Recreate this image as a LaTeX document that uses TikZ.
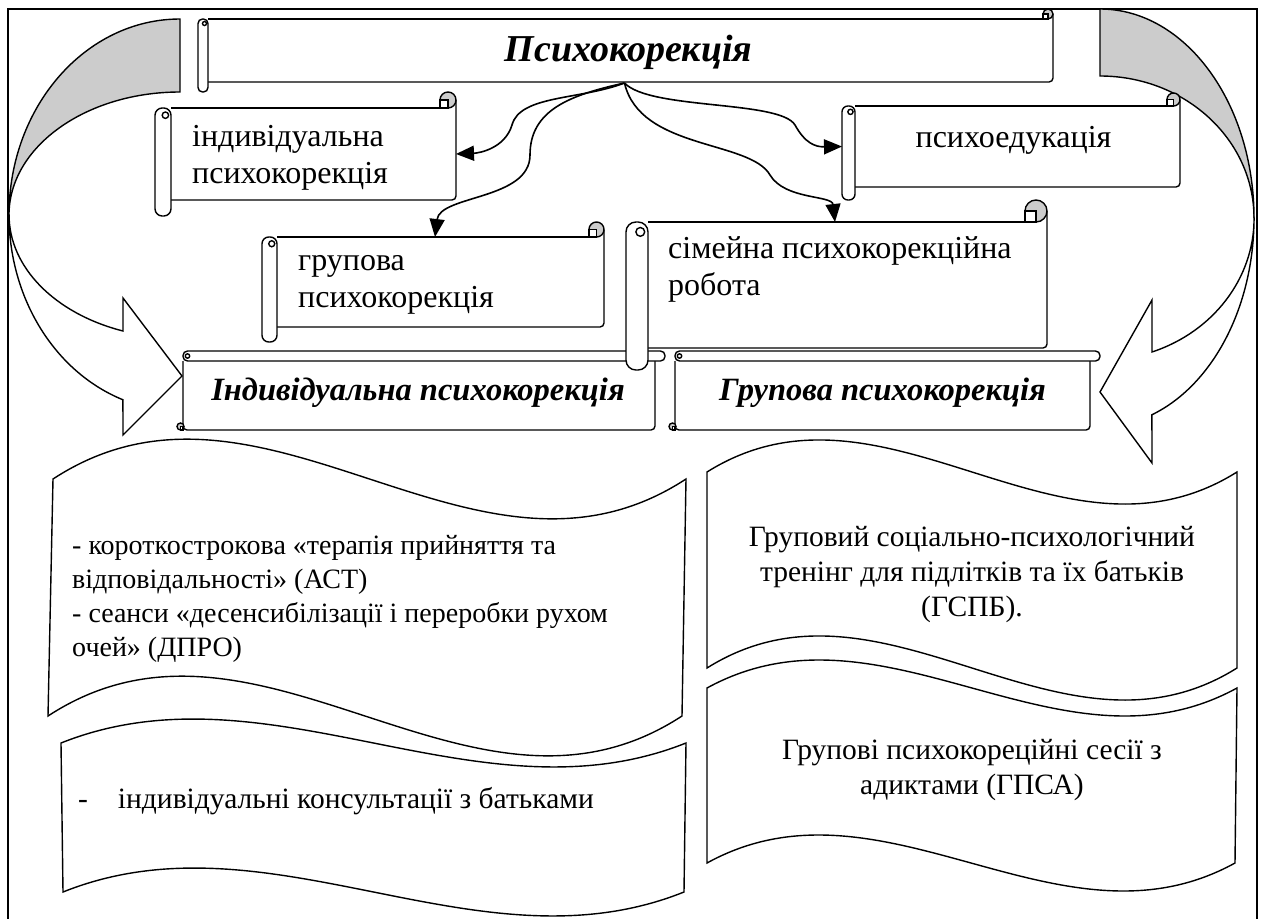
\documentclass[tikz,border=0pt]{standalone}
\usepackage{fontspec}
\setmainfont{Liberation Serif}
\usetikzlibrary{positioning,calc,fit,arrows.meta}
\definecolor{rollgray}{gray}{0.8}

\tikzset{
    scrollline/.style={draw=black, line width=1.4pt},
    fitbox/.style={inner sep=0pt, outer sep=0pt},
    waveline/.style={draw=black, line width=1.4pt, fill=white},
    flow/.style={draw, line width=1.6pt, -{Triangle[length=18pt,width=15pt]}},
    plain/.style={font=\fontsize{32}{37}\selectfont, inner sep=0pt, align=left},
    heading/.style={font=\fontsize{32.5}{38}\selectfont\bfseries\itshape, inner sep=0pt},
    note/.style={font=\fontsize{29.5}{35}\selectfont, inner sep=0pt}
}

% scroll with roller on the left, curl at top right
\newcommand{\vroll}[2]{%
    \pgfmathsetmacro\rollh{0.5*#2}
    \pgfmathsetmacro\rollr{0.45*#2}
    \pgfmathsetmacro\rolls{0.2*#2}
    \fill[white] (#1.north west) rectangle (#1.south east);
    \draw[scrollline] (#1.north west) -- ($(#1.north east)+(-0.5*#2,0)$);
    \draw[scrollline, rounded corners=4pt] ($(#1.north east)+(0,-0.5*#2)$) -- (#1.south east) -- (#1.south west);
    \draw[scrollline, fill=rollgray] ($(#1.north east)+(-0.5*#2,-0.5*#2)$) circle[radius=\rollh pt];
    \draw[scrollline, fill=white] ($(#1.north east)+(-#2,0)$) rectangle ($(#1.north east)+(-0.5*#2,-0.5*#2)$);
    \draw[scrollline, fill=white, rounded corners=\rollr pt] ($(#1.north west)+(-#2,0)$) rectangle ($(#1.south west)+(0,#2)$);
    \draw[scrollline] ($(#1.north west)+(-0.35*#2,0.45*#2)$) circle[radius=\rolls pt];
}
% scroll with roller along the top
\newcommand{\hroll}[2]{%
    \pgfmathsetmacro\rollr{0.45*#2}
    \pgfmathsetmacro\rolls{0.22*#2}
    \pgfmathsetmacro\rollc{0.35*#2}
    \fill[white] (#1.north west) rectangle (#1.south east);
    \draw[scrollline, rounded corners=4pt] (#1.north east) -- (#1.south east) -- (#1.south west) -- (#1.north west);
    \draw[scrollline, fill=rollgray] ($(#1.south west)+(-0.25*#2,-0.35*#2)$) circle[radius=\rollc pt];
    \draw[scrollline, fill=white] ($(#1.south west)+(-0.25*#2,-0.35*#2)$) rectangle (#1.south west);
    \draw[scrollline, fill=white, rounded corners=\rollr pt] ($(#1.north west)+(0,-#2)$) rectangle ($(#1.north east)+(#2,0)$);
    \draw[scrollline] ($(#1.north west)+(0.45*#2,-0.5*#2)$) circle[radius=\rolls pt];
}

\begin{document}
\begin{tikzpicture}[x=1pt, y=-1pt]
\useasboundingbox (0,0) rectangle (1262,919);
\draw[line width=1.5pt] (8,930) -- (8,9) -- (1257,9) -- (1257,930);

% bodies of the scrolls
\node[fitbox, fit={(208,19) (1053,82)}] (title) {};
\node[fitbox, fit={(171,108) (456,200)}] (ind) {};
\node[fitbox, fit={(855,106) (1180,187)}] (psy) {};
\node[fitbox, fit={(277,237) (604,327)}] (grp) {};
\node[fitbox, fit={(648,222) (1047,348)}] (fam) {};
\node[fitbox, fit={(183,361) (655,430)}] (indb) {};
\node[fitbox, fit={(675,361) (1090,430)}] (grpb) {};

% curved block arrows
\draw[scrollline, fill=rollgray] (180,19) arc[start angle=90, end angle=180, x radius=171pt, y radius=196pt]
    arc[start angle=180, end angle=90, x radius=171pt, y radius=123pt] -- cycle;
\draw[scrollline, fill=white] (9,215) arc[start angle=180, end angle=250.5, x radius=171pt, y radius=196pt]
    -- (123,435) -- (182,376) -- (123,298) -- (123,331)
    arc[start angle=250.5, end angle=180, x radius=171pt, y radius=123pt] -- cycle;
\draw[scrollline, fill=rollgray] (1100,9) arc[start angle=90, end angle=0, x radius=154pt, y radius=209pt]
    arc[start angle=0, end angle=90, x radius=154pt, y radius=142pt] -- cycle;
\draw[scrollline, fill=white] (1254,218) arc[start angle=0, end angle=-70.3, x radius=154pt, y radius=209pt]
    -- (1152,463) -- (1100,392) -- (1152,300) -- (1152,352)
    arc[start angle=-70.3, end angle=0, x radius=154pt, y radius=142pt] -- cycle;

% waves
\draw[waveline] (53,479) .. controls (264,341) and (475,617) .. (686,479) -- (682,716)
    .. controls (471,854) and (259,578) .. (48,716) -- cycle;
\draw[waveline] (61,743) .. controls (269,660) and (478,826) .. (686,743) -- (684,892)
    .. controls (477,975) and (270,809) .. (63,892) -- cycle;
\draw[waveline] (707,472) .. controls (884,361) and (1060,583) .. (1237,472) -- (1237,668)
    .. controls (1060,779) and (884,557) .. (707,668) -- cycle;
\draw[waveline] (707,688) .. controls (884,591) and (1060,785) .. (1237,688) -- (1235,863)
    .. controls (1059,960) and (883,766) .. (707,863) -- cycle;

\vroll{title}{10}
\vroll{ind}{16}
\vroll{psy}{13}
\vroll{grp}{15}
\hroll{indb}{10}
\hroll{grpb}{10}
\vroll{fam}{22}

\node[heading, font=\fontsize{38}{46}\selectfont\bfseries\itshape] (title-t) at ($(title)+(-2,2)$) {Психокорекція};
\node[plain, anchor=west] (ind-t) at ($(ind.west)+(21,4)$) {індивідуальна\\психокорекція};
\node[plain] (psy-t) at ($(psy)+(-4,-6)$) {психоедукація};
\node[plain, anchor=west] (grp-t) at ($(grp.west)+(21,3)$) {групова\\психокорекція};
\node[plain, anchor=west] (fam-t) at ($(fam.west)+(20,-16)$) {сімейна психокорекційна\\робота};
\node[heading] (indb-t) at ($(indb)+(-1,-3)$) {Індивідуальна психокорекція};
\node[heading] (grpb-t) at ($(grpb)+(0,-3)$) {Групова психокорекція};

\node[note, font=\fontsize{28}{34}\selectfont, anchor=west, align=left] (w1-t) at (72,599) {- короткострокова «терапія прийняття та\\відповідальності» (АСТ)\\- сеанси «десенсибілізації і переробки рухом\\очей» (ДПРО)};
\node[note, anchor=west] (w2-t) at (78,801) {-\hspace{30pt}індивідуальні консультації з батьками};
\node[note, align=center] (w3-t) at (972,575) {Груповий соціально-психологічний\\тренінг для підлітків та їх батьків\\(ГСПБ).};
\node[note, align=center] (w4-t) at (972,770) {Групові психокореційні сесії з\\адиктами (ГПСА)};

% links from the title
\coordinate (hub) at ($(title.south)+(-6,1)$);
\draw[flow] (hub) .. controls (580,100) and (520,95) .. (512,125) .. controls (505,148) and (480,153) .. (ind.east);
\draw[flow] (hub) .. controls (570,95) and (530,110) .. (530,155) .. controls (530,200) and (440,195) .. ($(grp.north west)+(158,0)$);
\draw[flow] (hub) .. controls (650,110) and (780,100) .. (795,125) .. controls (805,143) and (815,147) .. ($(psy.west)+(-13,0)$);
\draw[flow] (hub) .. controls (640,150) and (750,140) .. (770,175) .. controls (785,200) and (832,195) .. ($(fam.north east)+(-212,0)$);
\end{tikzpicture}
\end{document}
